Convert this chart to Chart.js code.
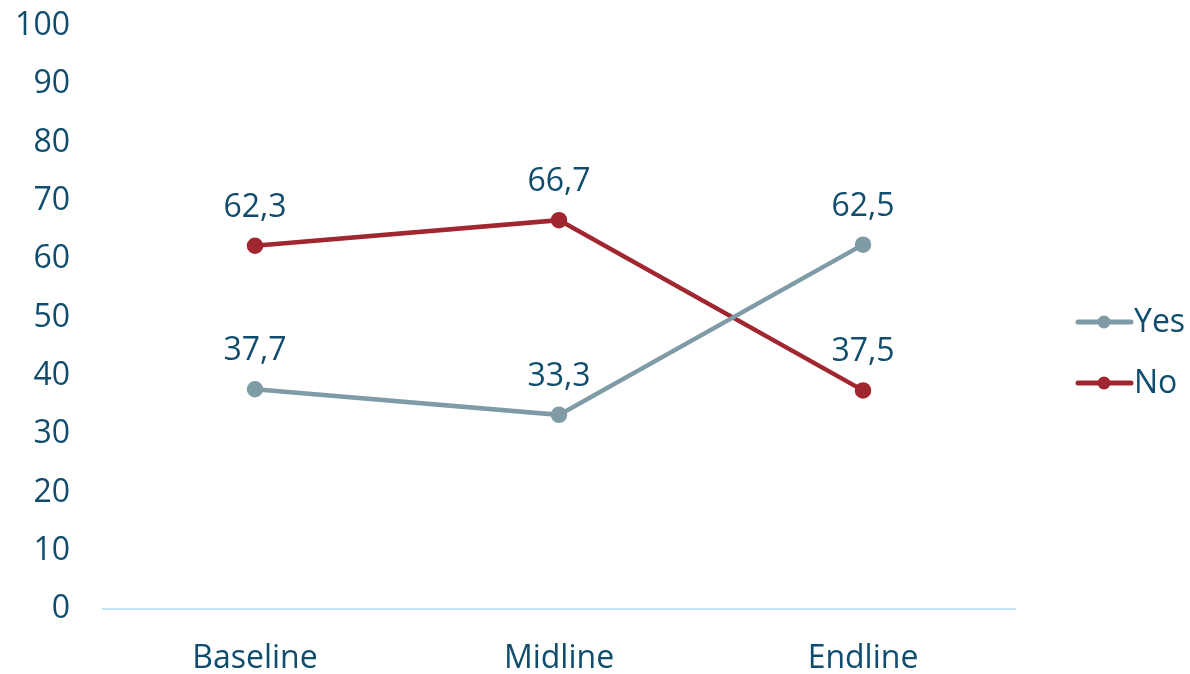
<!DOCTYPE html>
<html>
<head>
<meta charset="utf-8">
<script src="https://cdn.jsdelivr.net/npm/chart.js@4"></script>
<style>
  html, body { margin: 0; padding: 0; background: #fff; }
  #wrap { width: 1190px; height: 674px; }
</style>
</head>
<body>
<div id="wrap"><canvas id="surveyChart"></canvas></div>
<script>
const rounds = ['Baseline', 'Midline', 'Endline'];
const yesValues = [37.7, 33.3, 62.5];
const noValues = [62.3, 66.7, 37.5];
const yTicks = [0, 10, 20, 30, 40, 50, 60, 70, 80, 90, 100];

const textColor = '#0f4c6e';
const fontFamily = '"Open Sans", sans-serif';

// value labels above each point, decimal comma
const pointLabels = {
    id: 'pointLabels',
    afterDatasetsDraw(chart) {
        const ctx = chart.ctx;
        ctx.save();
        ctx.font = '32px ' + fontFamily;
        ctx.fillStyle = textColor;
        ctx.textAlign = 'center';
        ctx.textBaseline = 'middle';
        chart.data.datasets.forEach((ds, i) => {
            chart.getDatasetMeta(i).data.forEach((pt, j) => {
                const txt = ds.data[j].toFixed(1).replace('.', ',');
                ctx.fillText(txt, pt.x, pt.y - 38);
            });
        });
        ctx.restore();
    }
};

// legend on the right: short line with a dot, then the name
const sideLegend = {
    id: 'sideLegend',
    afterDraw(chart) {
        const ctx = chart.ctx;
        const rows = [322, 383];
        ctx.save();
        chart.data.datasets.forEach((ds, i) => {
            const y = rows[i];
            ctx.strokeStyle = ds.borderColor;
            ctx.lineWidth = 5;
            ctx.lineCap = 'round';
            ctx.beginPath();
            ctx.moveTo(1078, y);
            ctx.lineTo(1131, y);
            ctx.stroke();
            ctx.fillStyle = ds.borderColor;
            ctx.beginPath();
            ctx.arc(1104, y, 6.5, 0, Math.PI * 2);
            ctx.fill();
            ctx.fillStyle = textColor;
            ctx.font = '32px ' + fontFamily;
            ctx.textBaseline = 'middle';
            ctx.textAlign = 'left';
            ctx.fillText(ds.label, 1134, y + 1);
        });
        ctx.restore();
    }
};

const ctx = document.getElementById('surveyChart').getContext('2d');
new Chart(ctx, {
    type: 'line',
    data: {
        labels: rounds,
        datasets: [
            {
                label: 'Yes',
                data: yesValues,
                borderColor: '#7f9ba6',
                backgroundColor: '#7f9ba6',
                borderWidth: 4.5,
                pointRadius: 6,
                pointHoverRadius: 6,
                tension: 0
            },
            {
                label: 'No',
                data: noValues,
                borderColor: '#a0262f',
                backgroundColor: '#a0262f',
                borderWidth: 4.5,
                pointRadius: 6,
                pointHoverRadius: 6,
                tension: 0
            }
        ]
    },
    options: {
        responsive: true,
        maintainAspectRatio: false,
        animation: false,
        layout: { padding: { top: 26, right: 175, bottom: 0, left: 0 } },
        scales: {
            x: {
                offset: true,
                grid: { display: false, drawTicks: false },
                border: { display: true, color: '#bfe4f3', width: 2 },
                ticks: {
                    color: textColor,
                    font: { family: fontFamily, size: 32 },
                    padding: 31
                },
                afterFit(axis) { axis.height = 65; }
            },
            y: {
                min: 0,
                max: 100,
                afterBuildTicks(axis) { axis.ticks = yTicks.map(v => ({ value: v })); },
                grid: { display: false, drawTicks: false },
                border: { display: false },
                ticks: {
                    color: textColor,
                    font: { family: fontFamily, size: 32 },
                    padding: 33
                },
                afterFit(axis) {
                    axis.width = 103;
                    axis.paddingTop = 0;
                    axis.paddingBottom = 0;
                }
            }
        },
        plugins: {
            legend: { display: false },
            tooltip: { enabled: false }
        }
    },
    plugins: [pointLabels, sideLegend]
});
</script>
</body>
</html>
